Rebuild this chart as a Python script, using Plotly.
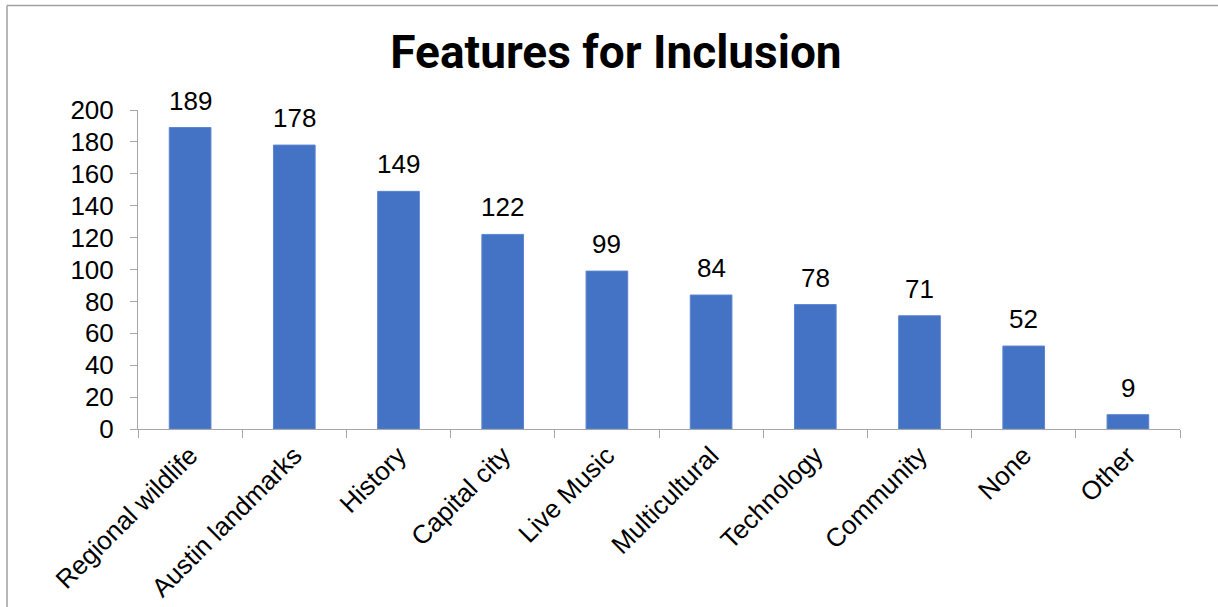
import plotly.graph_objects as go

categories = ["Regional wildlife", "Austin landmarks", "History", "Capital city", "Live Music",
              "Multicultural", "Technology", "Community", "None", "Other"]
values = [189, 178, 149, 122, 99, 84, 78, 71, 52, 9]
y_ticks = [0, 20, 40, 60, 80, 100, 120, 140, 160, 180, 200]

FONT = "Liberation Sans"
FS = 26

fig = go.Figure(go.Bar(
    x=categories, y=values,
    marker=dict(color="#4472C4", line=dict(color="#5B85D0", width=1)),
    cliponaxis=False,
))

for c, v in zip(categories, values):
    fig.add_annotation(x=c, y=v, text=str(v), showarrow=False, yanchor="bottom",
                       yshift=10, font=dict(family=FONT, size=FS, color="#000000"))

W, H = 1218, 607
l, r, t, b = 138, 38, 110, 178

fig.update_layout(
    width=W, height=H,
    margin=dict(l=l, r=r, t=t, b=b, autoexpand=False),
    paper_bgcolor="white", plot_bgcolor="white",
    bargap=0.6,
    showlegend=False,
    title=dict(text="<b>Features for Inclusion</b>", x=616 / W, xanchor="center",
               y=1 - 52 / H, yanchor="middle",
               font=dict(family="Roboto", size=46, color="#000000")),
    font=dict(family=FONT, size=FS, color="#000000"),
)
fig.update_xaxes(
    tickangle=-45, tickson="boundaries", ticks="outside", ticklen=8, tickcolor="#A6A6A6",
    showline=True, linecolor="#A6A6A6", linewidth=1, showgrid=False,
    tickfont=dict(family=FONT, size=FS, color="#000000"),
)
fig.update_yaxes(
    range=[0, 200], tickvals=y_ticks, ticks="outside", ticklen=7, tickcolor="#A6A6A6",
    showline=True, linecolor="#A6A6A6", linewidth=1, showgrid=False, zeroline=False,
    tickfont=dict(family=FONT, size=FS, color="#000000"),
    ticklabelstandoff=11,
)

pw = W - l - r
ph = H - t - b
def px_x(x):
    return (x - l) / pw
def px_y(y):
    return (H - b - y) / ph

# chart border (left and top edges visible)
fig.add_shape(type="line", xref="paper", yref="paper",
              x0=px_x(7), x1=px_x(W + 5), y0=px_y(5.5), y1=px_y(5.5),
              line=dict(color="#A0A0A0", width=1.5))
fig.add_shape(type="line", xref="paper", yref="paper",
              x0=px_x(7), x1=px_x(7), y0=px_y(5.5), y1=px_y(H + 5),
              line=dict(color="#A0A0A0", width=1.5))

fig.write_html("out.html", config={"displayModeBar": False},
               post_script="document.body.style.margin='0';document.body.style.overflow='hidden';")
